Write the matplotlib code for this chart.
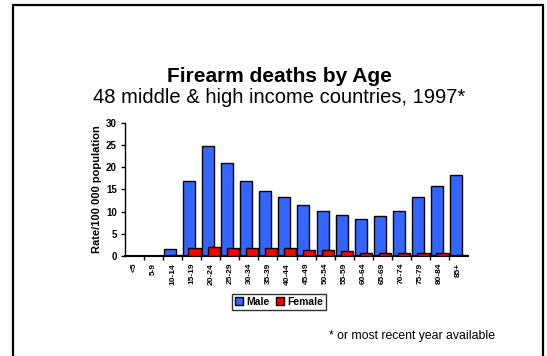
"""
Firearm deaths by age, 48 middle & high income countries
"""

import matplotlib
import matplotlib.pyplot as plt
import numpy as np
from matplotlib.patches import Rectangle
matplotlib.use("AGG")

plt.rcParams['font.family'] = ['Liberation Sans', 'DejaVu Sans']

age_groups = ['<5', '5-9', '10-14', '15-19', '20-24', '25-29', '30-34', '35-39',
              '40-44', '45-49', '50-54', '55-59', '60-64', '65-69', '70-74',
              '75-79', '80-84', '85+']
male = [0.1, 0.1, 1.5, 16.9, 24.8, 20.9, 16.9, 14.6, 13.3, 11.5, 10.1, 9.2,
        8.4, 9.0, 10.1, 13.3, 15.8, 18.2]
female = [0.05, 0.05, 0.2, 1.9, 2.1, 1.9, 1.9, 1.9, 1.9, 1.4, 1.4, 1.1,
          0.75, 0.75, 0.75, 0.75, 0.75, 0.2]

blue = '#3366FF'
red = '#FF0000'

fig = plt.figure(figsize=(5.47, 3.56), dpi=100)
ax = fig.add_axes([0.2285, 0.281, 0.6271, 0.3735])

x = np.arange(len(age_groups))
ax.bar(x - 0.5 + 0.05, male, width=0.63, align='edge', color=blue,
       edgecolor='black', linewidth=1, label='Male', zorder=2)
ax.bar(x - 0.5 + 0.33, female, width=0.65, align='edge', color=red,
       edgecolor='black', linewidth=1, label='Female', zorder=3)

ax.set_xlim(-0.5, len(age_groups) - 0.5)
ax.set_ylim(0, 30)
ax.set_yticks(range(0, 31, 5))
ax.set_xticks(x)
ax.set_xticklabels(age_groups, rotation=90, fontsize=6, fontweight='bold')
ax.set_xticks(x[:-1] + 0.5, minor=True)
ax.tick_params(axis='x', which='major', length=0, pad=5)
ax.tick_params(axis='x', which='minor', length=3, width=1, direction='out')
ax.tick_params(axis='y', length=3, width=1, labelsize=7, pad=3)
for lab in ax.get_yticklabels():
    lab.set_fontweight('bold')

ax.spines['top'].set_visible(False)
ax.spines['right'].set_visible(False)
ax.spines['left'].set_linewidth(1)
ax.spines['bottom'].set_linewidth(1.5)

ax.set_ylabel('Rate/100 000 population', fontsize=8, fontweight='bold',
              labelpad=3)

fig.text(0.51, 0.785, 'Firearm deaths by Age', ha='center', va='center',
         fontsize=15, fontweight='bold')
fig.text(0.51, 0.725, '48 middle & high income countries, 1997*',
         ha='center', va='center', fontsize=14.5)
fig.text(0.905, 0.055, '* or most recent year available', ha='right',
         va='center', fontsize=8.8)

leg = fig.legend(loc='center', bbox_to_anchor=(0.51, 0.152), ncol=2,
                 fontsize=7.5, frameon=True, fancybox=False, handlelength=0.8,
                 handleheight=0.8, handletextpad=0.3, columnspacing=0.6,
                 borderpad=0.3, borderaxespad=0)
leg.get_frame().set_edgecolor('black')
leg.get_frame().set_linewidth(1)
for t in leg.get_texts():
    t.set_fontweight('bold')

# Slide border
fig.patches.append(Rectangle((13 / 547, -0.1), 530 / 547, 1.1 - 5 / 356,
                             transform=fig.transFigure, fill=False,
                             edgecolor='black', linewidth=1.6))

plt.savefig('out.png', dpi=100)
